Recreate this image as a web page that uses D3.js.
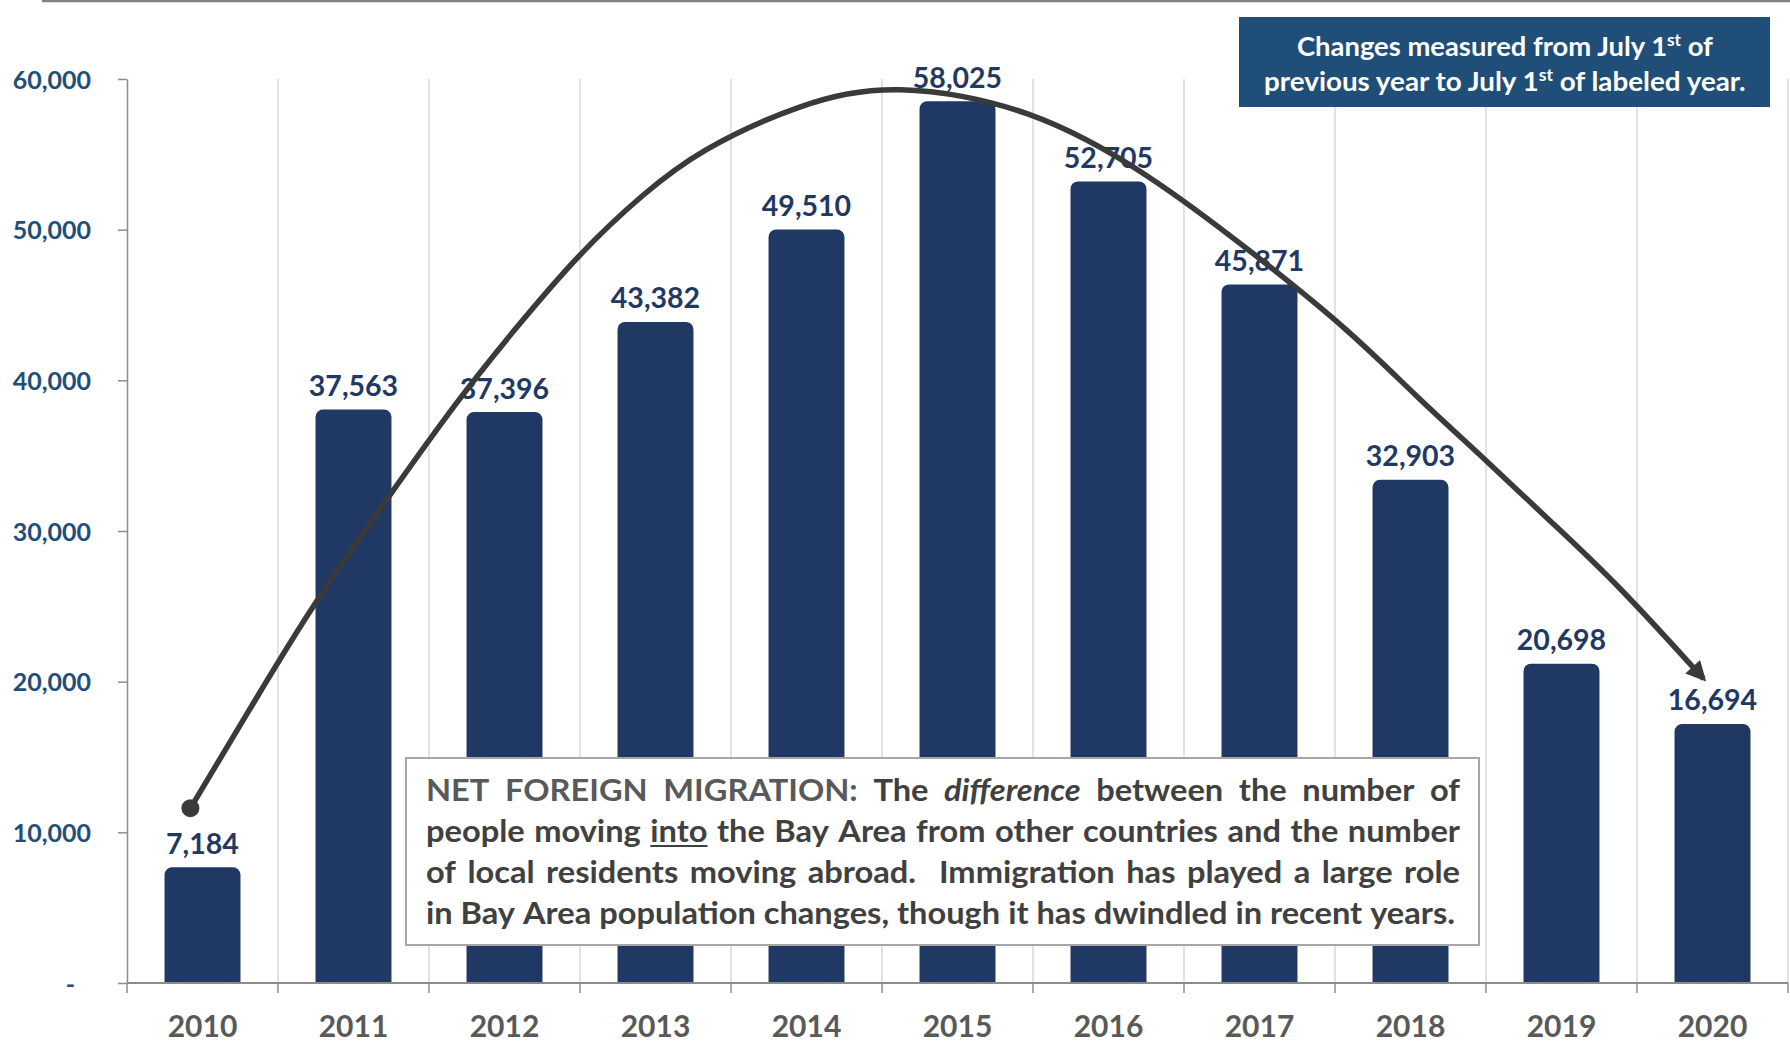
<!DOCTYPE html>
<html>
<head>
<meta charset="utf-8">
<script src="https://cdn.jsdelivr.net/npm/d3@7"></script>
<style>
  html, body { margin: 0; padding: 0; background: #ffffff; }
  svg { display: block; }
  text { font-family: Lato, "Open Sans", "Noto Sans", sans-serif; font-weight: 700; }
</style>
</head>
<body>
<svg id="chart" width="1790" height="1043"></svg>
<script>
// ---------------- data ----------------
const years  = ["2010","2011","2012","2013","2014","2015","2016","2017","2018","2019","2020"];
const values = [7184, 37563, 37396, 43382, 49510, 58025, 52705, 45871, 32903, 20698, 16694];
const yTickValues = [0, 10000, 20000, 30000, 40000, 50000, 60000];
// trend arrow, in (category position 0..11, value) units
const arrowPoints = [
  [0.42, 11600], [0.85, 18800], [1.23, 25100], [1.72, 32100], [2.19, 38700],
  [2.56, 43300], [3.00, 48500], [3.42, 52400], [3.79, 55300], [4.46, 58400],
  [5.07, 59800], [6.00, 58100], [6.77, 53700], [7.44, 48600], [8.10, 43300],
  [8.54, 38900], [8.98, 34900], [9.42, 30700], [9.87, 26500], [10.44, 20200]
];
const noteLines = [
  [["NET","h"],["FOREIGN","h"],["MIGRATION:","h"],["The",""],["difference","i"],["between",""],["the",""],["number",""],["of",""]],
  [["people",""],["moving",""],["into","u"],["the",""],["Bay",""],["Area",""],["from",""],["other",""],["countries",""],["and",""],["the",""],["number",""]],
  [["of",""],["local",""],["residents",""],["moving",""],["abroad.","",2],["Immigration",""],["has",""],["played",""],["a",""],["large",""],["role",""]],
  [["in",""],["Bay",""],["Area",""],["population",""],["changes,",""],["though",""],["it",""],["has",""],["dwindled",""],["in",""],["recent",""],["years.",""]]
];
const noteBox = ["Changes measured from July 1", "st", " of", "previous year to July 1", "st", " of labeled year."];

// ---------------- layout ----------------
const W = 1790, H = 1043;
const pLeft = 127, pRight = 1788, pTop = 79, pBottom = 983;
const svg = d3.select("#chart");

const x = d3.scaleBand().domain(years).range([pLeft, pRight]).padding(0);
const xPos = d3.scaleLinear().domain([0, years.length]).range([pLeft, pRight]);
const y = d3.scaleLinear().domain([0, 60000]).range([pBottom, pTop]);

const navy = "#203864";
const labelNavy = "#1F3864";
const tickBlue = "#1F4E79";
const gray = "#595959";
const dark = "#404040";

const defs = svg.append("defs");

// top rule
svg.append("line").attr("x1", 42).attr("x2", W).attr("y1", 1).attr("y2", 1)
  .attr("stroke", "#808080").attr("stroke-width", 2.5);

// vertical gridlines at category boundaries
svg.append("g").selectAll("line").data(years).join("line")
  .attr("x1", d => x(d) + x.bandwidth()).attr("x2", d => x(d) + x.bandwidth())
  .attr("y1", pTop).attr("y2", pBottom)
  .attr("stroke", "#d9d9d9").attr("stroke-width", 1.5);

// clip for bars
defs.append("clipPath").attr("id", "plotclip")
  .append("rect").attr("x", pLeft).attr("y", 0).attr("width", pRight - pLeft).attr("height", pBottom + 1);

// bars (stroke with round joins gives rounded tops)
const barStroke = 15;
const barOuter = x.bandwidth() * 0.503;
const barFill = barOuter - barStroke;
svg.append("g").attr("clip-path", "url(#plotclip)")
  .selectAll("rect").data(values).join("rect")
  .attr("x", (d, i) => x(years[i]) + x.bandwidth() / 2 - barFill / 2)
  .attr("y", d => y(d))
  .attr("width", barFill)
  .attr("height", d => y(0) - y(d) + barStroke)
  .attr("fill", navy).attr("stroke", navy)
  .attr("stroke-width", barStroke).attr("stroke-linejoin", "round");

// y axis
const yAxis = d3.axisLeft(y).tickValues(yTickValues).tickSize(9).tickSizeOuter(0).tickPadding(27)
  .tickFormat(d => d === 0 ? "-" : d3.format(",")(d));
const gy = svg.append("g").attr("transform", `translate(${pLeft},0)`).call(yAxis);
gy.select(".domain").attr("stroke", "#8c8c8c").attr("stroke-width", 1.5);
gy.selectAll(".tick line").attr("stroke", "#8c8c8c").attr("stroke-width", 1.5);
gy.selectAll(".tick text")
  .attr("fill", tickBlue).attr("font-size", 25).attr("font-weight", 700)
  .attr("font-family", "Lato, 'Open Sans', sans-serif")
  .attr("dy", "0.36em")
  .attr("dx", d => d === 0 ? -16 : 0);

// x axis line and boundary ticks
svg.append("line").attr("x1", pLeft).attr("x2", pRight).attr("y1", pBottom).attr("y2", pBottom)
  .attr("stroke", "#8c8c8c").attr("stroke-width", 1.8);
svg.append("g").selectAll("line").data([0, ...years.map((d, i) => i + 1)]).join("line")
  .attr("x1", d => xPos(d)).attr("x2", d => xPos(d))
  .attr("y1", pBottom).attr("y2", pBottom + 10)
  .attr("stroke", "#8c8c8c").attr("stroke-width", 1.5);

const xAxis = d3.axisBottom(x).tickSize(0).tickPadding(0);
const gx = svg.append("g").attr("transform", `translate(0,${pBottom})`).call(xAxis);
gx.select(".domain").remove();
gx.selectAll(".tick text")
  .attr("y", 54).attr("dy", null)
  .attr("fill", gray).attr("font-size", 30).attr("font-weight", 700)
  .attr("font-family", "Lato, 'Open Sans', sans-serif");

// data labels
svg.append("g").selectAll("text").data(values).join("text")
  .attr("x", (d, i) => x(years[i]) + x.bandwidth() / 2)
  .attr("y", d => y(d) - 21)
  .attr("text-anchor", "middle")
  .attr("fill", labelNavy).attr("font-size", 28.5)
  .text(d => d3.format(",")(d));

// trend arrow
defs.append("marker").attr("id", "arrowhead")
  .attr("viewBox", "0 0 20 20").attr("refX", 16).attr("refY", 10)
  .attr("markerUnits", "userSpaceOnUse")
  .attr("markerWidth", 22).attr("markerHeight", 20)
  .attr("orient", "auto")
  .append("path").attr("d", "M0,0 L20,10 L0,20 Z").attr("fill", "#3a3a3a");

const trend = d3.line().x(d => xPos(d[0])).y(d => y(d[1])).curve(d3.curveBasis);
svg.append("path").datum(arrowPoints)
  .attr("d", trend).attr("fill", "none")
  .attr("stroke", "#3a3a3a").attr("stroke-width", 5.5)
  .attr("marker-end", "url(#arrowhead)");
svg.append("circle")
  .attr("cx", xPos(arrowPoints[0][0])).attr("cy", y(arrowPoints[0][1]))
  .attr("r", 9).attr("fill", "#3a3a3a");

// annotation box
svg.append("rect").attr("x", 406).attr("y", 758).attr("width", 1073).attr("height", 187)
  .attr("fill", "#ffffff").attr("stroke", "#a6a6a6").attr("stroke-width", 2);

const noteG = svg.append("g");
const fontSize = 29.5;
const probe = noteG.append("text").attr("font-size", fontSize).text("aa");
const wAA = probe.node().getComputedTextLength();
probe.text("a a");
const spaceW = probe.node().getComputedTextLength() - wAA;
probe.remove();

const lineGroups = [];
const measured = noteLines.map((words) => {
  const g = noteG.append("g");
  lineGroups.push(g);
  return words.map(w => {
    const t = g.append("text").attr("font-size", fontSize)
      .attr("fill", w[1] === "h" ? gray : dark)
      .attr("font-style", w[1] === "i" ? "italic" : "normal")
      .text(w[0]);
    return { t, w: t.node().getComputedTextLength(), style: w[1], spaces: w[2] || 1 };
  });
});
const lastNatural = measured[3].reduce((a, m) => a + m.w, 0) +
  measured[3].slice(0, -1).reduce((a, m) => a + m.spaces * spaceW, 0);
const sx = 1029 / lastNatural;
const justW = 1034 / sx;
const baselines = [801, 842, 883, 924];
noteG.attr("transform", `translate(426,0) scale(${sx},1)`);
measured.forEach((ms, li) => {
  const wordSum = ms.reduce((a, m) => a + m.w, 0);
  const nSpaces = ms.slice(0, -1).reduce((a, m) => a + m.spaces, 0);
  const per = li < 3 ? (justW - wordSum) / nSpaces : spaceW;
  let cx = 0;
  ms.forEach(m => {
    m.t.attr("x", cx).attr("y", baselines[li]);
    if (m.style === "u") {
      lineGroups[li].append("line").attr("x1", cx).attr("x2", cx + m.w)
        .attr("y1", baselines[li] + 4).attr("y2", baselines[li] + 4)
        .attr("stroke", dark).attr("stroke-width", 2.2);
    }
    cx += m.w + per * m.spaces;
  });
});

// top-right note box
svg.append("rect").attr("x", 1239).attr("y", 17).attr("width", 531).attr("height", 90)
  .attr("fill", "#1F4E79");
function boxLine(parts, baseline, targetW) {
  const t = svg.append("text").attr("font-size", 27).attr("fill", "#ffffff")
    .attr("text-anchor", "start").attr("x", 0).attr("y", 0);
  t.append("tspan").text(parts[0]);
  t.append("tspan").attr("font-size", 17).attr("dy", -10).text(parts[1]);
  t.append("tspan").attr("dy", 10).text(parts[2]);
  const bw = t.node().getComputedTextLength();
  const k = targetW / bw;
  t.attr("transform", `translate(${1505 - targetW / 2},${baseline}) scale(${k},1)`);
}
boxLine(noteBox.slice(0, 3), 56, 416);
boxLine(noteBox.slice(3, 6), 91, 482);
</script>
</body>
</html>
